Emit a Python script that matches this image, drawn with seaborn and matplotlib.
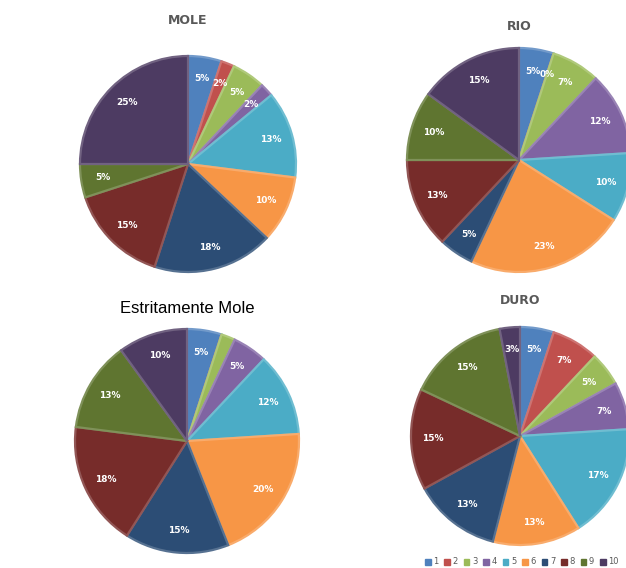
import matplotlib
matplotlib.use("Agg")
import matplotlib.pyplot as plt
import matplotlib.patches as mpatches
import matplotlib.colors as mcolors
import seaborn as sns

# --- Data (percent per category 1..10) ---
categories = ["1", "2", "3", "4", "5", "6", "7", "8", "9", "10"]
mole = [5, 2, 5, 2, 13, 10, 18, 15, 5, 25]
rio = [5, 0, 7, 12, 10, 23, 5, 13, 10, 15]
estritamente_mole = [5, 0, 2, 5, 12, 20, 15, 18, 13, 10]
duro = [5, 7, 5, 7, 17, 13, 13, 15, 15, 3]

# labels shown on the slices (blank = no label)
mole_labels = ["5%", "2%", "5%", "2%", "13%", "10%", "18%", "15%", "5%", "25%"]
rio_labels = ["5%", "0%", "7%", "12%", "10%", "23%", "5%", "13%", "10%", "15%"]
em_labels = ["5%", "", "", "5%", "12%", "20%", "15%", "18%", "13%", "10%"]
duro_labels = ["5%", "7%", "5%", "7%", "17%", "13%", "13%", "15%", "15%", "3%"]

sns.set_theme(style="white")
palette = sns.color_palette(["#4F81BD", "#C0504D", "#9BBB59", "#8064A2", "#4BACC6",
                             "#F79646", "#2C4D75", "#772C2A", "#5F7530", "#4D3B62"])

W, H = 626, 568
fig = plt.figure(figsize=(W / 100, H / 100), dpi=100)
fig.patch.set_facecolor("white")


def lighter(c, amt=0.25):
    r, g, b = mcolors.to_rgb(c)
    return (r + (1 - r) * amt, g + (1 - g) * amt, b + (1 - b) * amt)


def draw_pie(values, labels, cx, cy, r, title, title_y, title_kw):
    ax = fig.add_axes([(cx - r) / W, (H - cy - r) / H, 2 * r / W, 2 * r / H])
    wedges, texts = ax.pie(values, labels=labels, colors=palette, startangle=90,
                           counterclock=False, labeldistance=0.8,
                           textprops=dict(color="white", fontsize=6.5, fontweight="bold",
                                          ha="center", va="center"),
                           wedgeprops=dict(linewidth=1.6))
    for w, c in zip(wedges, palette):
        w.set_edgecolor(lighter(c, 0.2))
    ax.set_xlim(-1, 1)
    ax.set_ylim(-1, 1)
    ax.set_aspect("equal")
    ax.axis("off")
    fig.text(cx / W, 1 - title_y / H, title, ha="center", va="center", **title_kw)


head = dict(fontsize=9, fontweight="bold", color="#595959")
draw_pie(mole, mole_labels, 188, 164, 108, "MOLE", 21, head)
draw_pie(rio, rio_labels, 519, 160, 112, "RIO", 26, head)
draw_pie(estritamente_mole, em_labels, 187, 441, 112, "Estritamente Mole", 308,
         dict(fontsize=12, color="black", family="Liberation Sans"))
draw_pie(duro, duro_labels, 520, 436, 109, "DURO", 301, head)

handles = [mpatches.Patch(color=c, label=k) for c, k in zip(palette, categories)]
fig.legend(handles=handles, loc="center right", bbox_to_anchor=(623 / W, 1 - 562 / H),
           ncol=10, frameon=False, fontsize=6, handlelength=0.7, handleheight=0.7,
           handletextpad=0.3, columnspacing=0.7, borderpad=0, labelcolor="#595959")

fig.savefig("out.png", dpi=100)
